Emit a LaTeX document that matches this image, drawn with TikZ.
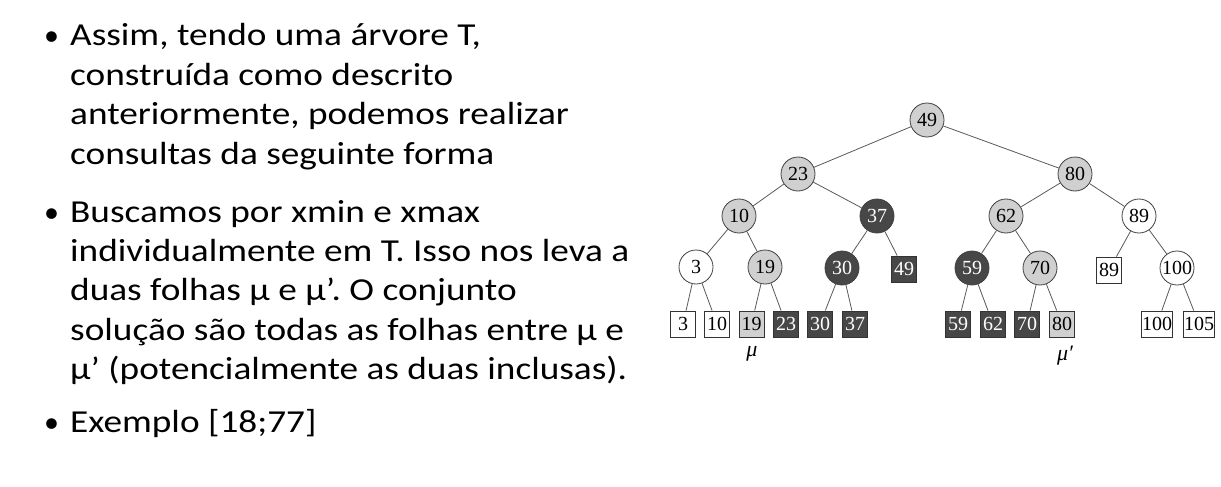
\documentclass[tikz,border=0pt]{standalone}
\usepackage{fontspec}
\setmainfont{Carlito}
\newfontfamily\slidefont[FakeStretch=1.165]{Carlito}
\newfontfamily\treefont{Liberation Serif}
\definecolor{lightg}{HTML}{D0D0D0}
\definecolor{darkg}{HTML}{474747}
\definecolor{edgeg}{HTML}{5A5A5A}
\frenchspacing
\begin{document}
\begin{tikzpicture}[x=1pt,y=-1pt,
  txt/.style={anchor=base west,inner sep=0pt,font=\slidefont\fontsize{32}{38}\selectfont},
  bul/.style={anchor=base west,inner sep=0pt,font=\fontsize{30}{36}\selectfont},
  circ/.style={circle,draw=black!75,line width=0.8pt,minimum size=34pt,inner sep=0pt,font=\treefont\fontsize{20}{22}\selectfont},
  leaf/.style={rectangle,draw=black!80,line width=0.8pt,minimum width=25pt,minimum height=26pt,inner xsep=0.5pt,inner ysep=1pt,font=\treefont\fontsize{20}{22}\selectfont},
  lt/.style={fill=lightg},
  dk/.style={fill=darkg,text=white},
  wh/.style={fill=white},
  edge/.style={draw=edgeg,line width=0.8pt},
  lab/.style={inner sep=0pt,font=\treefont\itshape\fontsize{22}{24}\selectfont}]
\useasboundingbox[fill=white] (0,0) rectangle (1221,487);
% text
\node[bul] (b1) at (44,46) {•};
\node[txt] (t1) at (70,46) {Assim, tendo uma árvore T,};
\node[txt] (t2) at (70,85.3) {construída como descrito};
\node[txt] (t3) at (70,124.6) {anteriormente, podemos realizar};
\node[txt] (t4) at (70,164) {consultas da seguinte forma};
\node[bul] (b2) at (44,222) {•};
\node[txt] (t5) at (70,222) {Buscamos por xmin e xmax};
\node[txt] (t6) at (70,261.3) {individualmente em T. Isso nos leva a};
\node[txt] (t7) at (70,300.6) {duas folhas μ e μ’. O conjunto};
\node[txt] (t8) at (70,340) {solução são todas as folhas entre μ e};
\node[txt] (t9) at (70,379.3) {μ’ (potencialmente as duas inclusas).};
\node[bul] (b3) at (44,432) {•};
\node[txt] (t10) at (70,432) {Exemplo [18;77]};
% tree internal nodes
\node[circ,lt] (n49) at (927,120) {49};
\node[circ,lt] (n23) at (798,174) {23};
\node[circ,lt] (n80) at (1075,174) {80};
\node[circ,lt] (n10) at (739,216) {10};
\node[circ,dk] (n37) at (877,216) {37};
\node[circ,lt] (n62) at (1006,216) {62};
\node[circ,wh] (n89) at (1139,216) {89};
\node[circ,wh] (n3) at (696,267) {3};
\node[circ,lt] (n19) at (765,267) {19};
\node[circ,dk] (n30) at (842,268) {30};
\node[leaf,dk] (l49) at (904,269) {49};
\node[circ,dk] (n59) at (972,268) {59};
\node[circ,lt] (n70) at (1040,268) {70};
\node[leaf,wh] (l89) at (1109,270) {89};
\node[circ,wh] (n100) at (1177,268) {100};
% leaves
\node[leaf,wh] (l3) at (683,324) {3};
\node[leaf,wh] (l10) at (717,324) {10};
\node[leaf,lt] (l19) at (751.5,324) {19};
\node[leaf,dk] (l23) at (786,324) {23};
\node[leaf,dk] (l30) at (820,324) {30};
\node[leaf,dk] (l37) at (855,324) {37};
\node[leaf,dk] (l59) at (958,324) {59};
\node[leaf,dk] (l62) at (993,324) {62};
\node[leaf,dk] (l70) at (1027,324) {70};
\node[leaf,lt] (l80) at (1062,324) {80};
\node[leaf,wh] (l100) at (1157,324) {100};
\node[leaf,wh] (l105) at (1199,324) {105};
\node[lab] (mu1) at (752,354) {μ};
\node[lab] (mu2) at (1065,356) {μ′};
% edges
\path[edge] (n49) -- (n23);
\path[edge] (n49) -- (n80);
\path[edge] (n23) -- (n10);
\path[edge] (n23) -- (n37);
\path[edge] (n80) -- (n62);
\path[edge] (n80) -- (n89);
\path[edge] (n10) -- (n3);
\path[edge] (n10) -- (n19);
\path[edge] (n37) -- (n30);
\path[edge] (n37) -- (l49);
\path[edge] (n62) -- (n59);
\path[edge] (n62) -- (n70);
\path[edge] (n89) -- (l89);
\path[edge] (n89) -- (n100);
\path[edge] (n3) -- (l3);
\path[edge] (n3) -- (l10);
\path[edge] (n19) -- (l19);
\path[edge] (n19) -- (l23);
\path[edge] (n30) -- (l30);
\path[edge] (n30) -- (l37);
\path[edge] (n59) -- (l59);
\path[edge] (n59) -- (l62);
\path[edge] (n70) -- (l70);
\path[edge] (n70) -- (l80);
\path[edge] (n100) -- (l100);
\path[edge] (n100) -- (l105);
\end{tikzpicture}
\end{document}
